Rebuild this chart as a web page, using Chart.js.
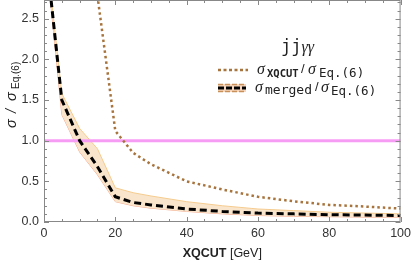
<!DOCTYPE html>
<html>
<head>
<meta charset="utf-8">
<script src="https://cdn.jsdelivr.net/npm/chart.js@4/dist/chart.umd.min.js"></script>
<style>
  body { margin: 0; background: #fff; }
  canvas { display: block; }
</style>
</head>
<body>
<canvas id="ratioChart" width="415" height="263"></canvas>
<script>
// XQCUT scan, values
const xqcutX = [15, 20, 25, 30, 40, 50, 60, 70, 80, 90, 100];
const xqcutRatio = [2.78, 1.12, 0.85, 0.71, 0.5, 0.4, 0.31, 0.255, 0.21, 0.19, 0.165];

const mergedX = [1, 5, 10, 15, 20, 25, 30, 40, 50, 60, 70, 80, 90, 100];
const mergedRatio = [3.13, 1.5, 1.0, 0.68, 0.31, 0.24, 0.21, 0.16, 0.13, 0.11, 0.1, 0.09, 0.085, 0.08];
const mergedUpper = [3.17, 1.58, 1.15, 0.9, 0.42, 0.36, 0.32, 0.25, 0.2, 0.16, 0.14, 0.12, 0.11, 0.1];
const mergedLower = [3.08, 1.32, 0.86, 0.58, 0.25, 0.2, 0.17, 0.13, 0.1, 0.08, 0.07, 0.065, 0.06, 0.06];

const refX = [0, 100];
const refRatio = [1, 1];

const xTicks = [0, 20, 40, 60, 80, 100];
const yTicks = [0, 0.5, 1, 1.5, 2, 2.5];

const toPoints = (xs, ys) => xs.map((x, i) => ({ x: x, y: ys[i] }));

const ctx = document.getElementById('ratioChart').getContext('2d');

// draws text pieces left to right (or at a fixed x), returns end x
function drawRuns(c, x, y, runs) {
    runs.forEach(r => {
        if (r.x !== undefined) x = r.x;
        c.font = r.font;
        c.fillText(r.text, x, y + (r.dy || 0));
        x += c.measureText(r.text).width + (r.gap || 0);
    });
    return x;
}

const framePlugin = {
    id: 'frame',
    afterDraw(chart) {
        const c = chart.ctx;
        const a = chart.chartArea;
        const xs = chart.scales.x;
        const ys = chart.scales.y;
        c.save();

        // frame
        c.strokeStyle = '#888';
        c.lineWidth = 1;
        c.strokeRect(a.left + 0.5, a.top + 0.5, a.right - a.left - 1, a.bottom - a.top - 1);

        // ticks on all four sides
        c.beginPath();
        for (let v = 0; v <= 100; v += 5) {
            const px = Math.round(xs.getPixelForValue(v)) + 0.5;
            const len = v % 20 === 0 ? 5 : 3;
            c.moveTo(px, a.bottom); c.lineTo(px, a.bottom - len);
            c.moveTo(px, a.top); c.lineTo(px, a.top + len);
        }
        for (let i = 0; i <= 27; i++) {
            const v = i / 10;
            const py = Math.round(ys.getPixelForValue(v)) + 0.5;
            const len = i % 5 === 0 ? 5 : 3;
            c.moveTo(a.left, py); c.lineTo(a.left + len, py);
            c.moveTo(a.right, py); c.lineTo(a.right - len, py);
        }
        c.stroke();

        c.fillStyle = '#222';
        c.textBaseline = 'alphabetic';

        // x title
        c.font = 'bold 12.5px "Liberation Sans"';
        const w1 = c.measureText('XQCUT').width;
        c.font = '12.5px "Liberation Sans"';
        const w2 = c.measureText(' [GeV]').width;
        const cx = (a.left + a.right) / 2;
        drawRuns(c, cx - (w1 + w2) / 2, 257, [
            { text: 'XQCUT', font: 'bold 12.5px "Liberation Sans"' },
            { text: ' [GeV]', font: '12.5px "Liberation Sans"' }
        ]);

        // y title, rotated
        c.save();
        c.translate(16, 128);
        c.rotate(-Math.PI / 2);
        drawRuns(c, 0, 0, [
            { x: 0, text: 'σ', font: 'italic 14.5px "Liberation Sans"' },
            { x: 15, text: '/', font: 'italic 14.5px "Liberation Sans"' },
            { x: 27, text: 'σ', font: 'italic 14.5px "Liberation Sans"' },
            { x: 39, text: 'Eq.(6)', font: '10px "Liberation Sans"', dy: 3 }
        ]);
        c.restore();

        // legend header
        drawRuns(c, 281, 52, [
            { text: 'jj', font: '17px "DejaVu Sans Mono"' },
            { text: 'γγ', font: 'italic 16px "Liberation Serif"' }
        ]);

        // legend entry 1: dotted brown
        c.save();
        c.strokeStyle = '#a8743e';
        c.lineWidth = 2.5;
        c.setLineDash([3, 2.5]);
        c.beginPath(); c.moveTo(218, 70); c.lineTo(248, 70); c.stroke();
        c.restore();
        drawRuns(c, 257, 74, [
            { text: 'σ', font: 'italic 16px "Liberation Serif"' },
            { x: 267, text: 'XQCUT', font: 'bold 10.5px "DejaVu Sans Mono"', dy: 3 },
            { x: 301, text: '/', font: '13px "Liberation Sans"', dy: -1 },
            { x: 308, text: 'σ', font: 'italic 16px "Liberation Serif"' },
            { x: 319, text: 'Eq.(6)', font: '12.5px "DejaVu Sans Mono"', dy: 3 }
        ]);

        // legend entry 2: band + black dashed
        c.save();
        c.fillStyle = '#f6d6bd';
        c.fillRect(218, 84, 28, 8);
        c.strokeStyle = '#c8905a';
        c.lineWidth = 1.5;
        c.setLineDash([5, 2]);
        c.beginPath();
        c.moveTo(218, 84.5); c.lineTo(246, 84.5);
        c.moveTo(218, 91.5); c.lineTo(246, 91.5);
        c.stroke();
        c.strokeStyle = '#000';
        c.lineWidth = 3;
        c.setLineDash([6, 2]);
        c.beginPath(); c.moveTo(218, 88); c.lineTo(246, 88); c.stroke();
        c.restore();
        drawRuns(c, 255, 92, [
            { text: 'σ', font: 'italic 16px "Liberation Serif"' },
            { x: 265, text: 'merged', font: '13px "DejaVu Sans Mono"', dy: 2 },
            { x: 315, text: '/', font: '13px "Liberation Sans"', dy: -1 },
            { x: 321, text: 'σ', font: 'italic 16px "Liberation Serif"' },
            { x: 331, text: 'Eq.(6)', font: '12.5px "DejaVu Sans Mono"', dy: 3 }
        ]);

        c.restore();
    }
};

new Chart(ctx, {
    type: 'line',
    data: {
        datasets: [
            {
                label: 'band upper',
                data: toPoints(mergedX, mergedUpper),
                borderColor: '#f5cc90',
                borderWidth: 1,
                backgroundColor: '#f9e5cb',
                fill: '+1',
                order: 5
            },
            {
                label: 'band lower',
                data: toPoints(mergedX, mergedLower),
                borderColor: '#f3a88c',
                borderWidth: 1,
                fill: false,
                order: 5
            },
            {
                label: 'Eq.(6)',
                data: toPoints(refX, refRatio),
                borderColor: '#f79cf5',
                borderWidth: 3,
                fill: false,
                order: 4
            },
            {
                label: 'XQCUT',
                data: toPoints(xqcutX, xqcutRatio),
                borderColor: '#a8743e',
                borderWidth: 2.5,
                borderDash: [2.5, 3],
                fill: false,
                order: 3
            },
            {
                label: 'merged',
                data: toPoints(mergedX, mergedRatio),
                borderColor: '#000',
                borderWidth: 3,
                borderDash: [7, 4],
                fill: false,
                order: 1
            }
        ]
    },
    options: {
        responsive: false,
        animation: false,
        devicePixelRatio: 1,
        layout: { padding: { top: 0, right: 11, left: 0, bottom: 0 } },
        elements: { point: { radius: 0 }, line: { tension: 0 } },
        plugins: {
            legend: { display: false },
            tooltip: { enabled: false }
        },
        scales: {
            x: {
                type: 'linear',
                min: 0,
                max: 100,
                grid: { display: false, drawTicks: false },
                border: { display: false },
                afterFit(s) { s.height = 41; },
                afterBuildTicks(s) { s.ticks = xTicks.map(v => ({ value: v })); },
                ticks: {
                    color: '#333',
                    padding: 4,
                    font: { family: 'Liberation Sans', size: 12.5 },
                    callback: v => String(v)
                }
            },
            y: {
                min: 0,
                max: 2.73,
                grid: { display: false, drawTicks: false },
                border: { display: false },
                afterFit(s) { s.width = 44; s.paddingTop = 0; s.paddingBottom = 0; },
                afterBuildTicks(s) { s.ticks = yTicks.map(v => ({ value: v })); },
                ticks: {
                    color: '#333',
                    padding: 5,
                    font: { family: 'Liberation Sans', size: 12.5 },
                    callback: v => v.toFixed(1)
                }
            }
        }
    },
    plugins: [framePlugin]
});
</script>
</body>
</html>
